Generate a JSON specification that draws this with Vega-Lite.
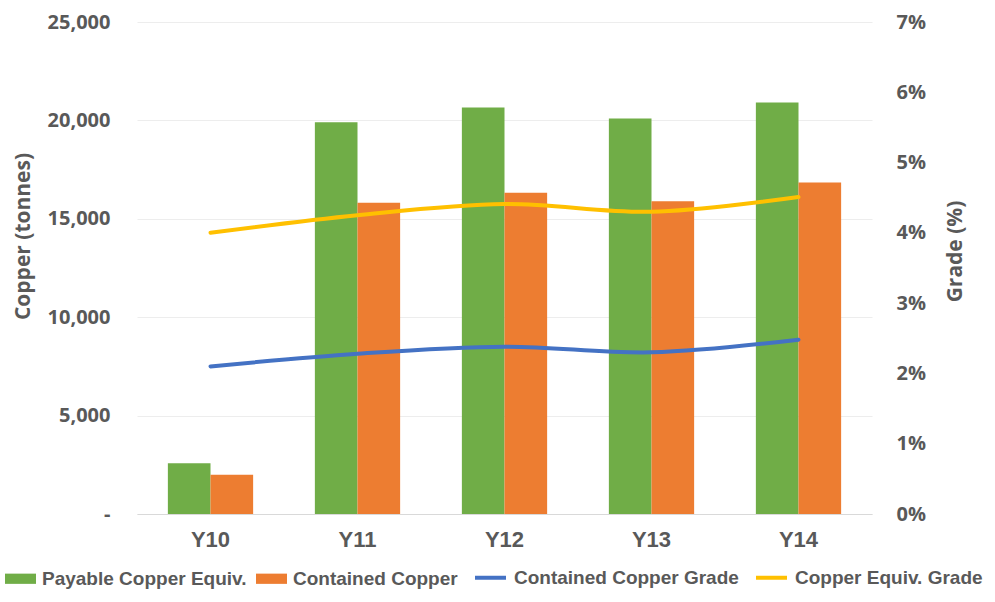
{
  "$schema": "https://vega.github.io/schema/vega-lite/v6.json",
  "autosize": {"type": "none"},
  "width": 735,
  "height": 492,
  "padding": {"left": 137, "top": 22, "right": 123, "bottom": 88},
  "background": "white",
  "config": {
    "view": {"stroke": null},
    "axis": {"labelColor": "#595959", "titleColor": "#595959", "ticks": false, "tickSize": 0, "domain": false}
  },
  "data": {
    "values": [
      {"year": "Y10", "series": "Payable Copper Equiv.", "kind": "bar", "value": 2580},
      {"year": "Y10", "series": "Contained Copper", "kind": "bar", "value": 2000},
      {"year": "Y11", "series": "Payable Copper Equiv.", "kind": "bar", "value": 19900},
      {"year": "Y11", "series": "Contained Copper", "kind": "bar", "value": 15820},
      {"year": "Y12", "series": "Payable Copper Equiv.", "kind": "bar", "value": 20660},
      {"year": "Y12", "series": "Contained Copper", "kind": "bar", "value": 16330},
      {"year": "Y13", "series": "Payable Copper Equiv.", "kind": "bar", "value": 20100},
      {"year": "Y13", "series": "Contained Copper", "kind": "bar", "value": 15890},
      {"year": "Y14", "series": "Payable Copper Equiv.", "kind": "bar", "value": 20910},
      {"year": "Y14", "series": "Contained Copper", "kind": "bar", "value": 16850},
      {"year": "Y10", "series": "Contained Copper Grade", "kind": "line", "value": 0.0210},
      {"year": "Y11", "series": "Contained Copper Grade", "kind": "line", "value": 0.0228},
      {"year": "Y12", "series": "Contained Copper Grade", "kind": "line", "value": 0.0238},
      {"year": "Y13", "series": "Contained Copper Grade", "kind": "line", "value": 0.0230},
      {"year": "Y14", "series": "Contained Copper Grade", "kind": "line", "value": 0.0248},
      {"year": "Y10", "series": "Copper Equiv. Grade", "kind": "line", "value": 0.0400},
      {"year": "Y11", "series": "Copper Equiv. Grade", "kind": "line", "value": 0.0425},
      {"year": "Y12", "series": "Copper Equiv. Grade", "kind": "line", "value": 0.0441},
      {"year": "Y13", "series": "Copper Equiv. Grade", "kind": "line", "value": 0.0430},
      {"year": "Y14", "series": "Copper Equiv. Grade", "kind": "line", "value": 0.0451}
    ]
  },
  "encoding": {
    "x": {
      "field": "year", "type": "nominal",
      "scale": {"paddingInner": 0.42, "paddingOuter": 0.21},
      "axis": {
        "title": null, "labelAngle": 0, "labelFont": "Liberation Sans", "labelFontWeight": "bold",
        "labelFontSize": 22, "labelPadding": 15, "domain": true, "domainColor": "#d9d9d9", "grid": false
      }
    }
  },
  "layer": [
    {
      "transform": [{"filter": "datum.kind == 'bar'"}],
      "mark": {"type": "bar"},
      "encoding": {
        "xOffset": {"field": "series", "type": "nominal", "sort": ["Payable Copper Equiv.", "Contained Copper"]},
        "y": {
          "field": "value", "type": "quantitative",
          "scale": {"domain": [0, 25000], "nice": false},
          "axis": {
            "title": "Copper (tonnes)", "values": [0, 5000, 10000, 15000, 20000, 25000],
            "labelExpr": "datum.value === 0 ? '-\u00a0\u00a0\u00a0' : format(datum.value, ',')",
            "labelFont": "Open Sans", "labelFontWeight": "bold", "labelFontSize": 20, "labelPadding": 27,
            "titleFont": "Open Sans", "titleFontWeight": "bold", "titleFontSize": 21, "titlePadding": 14,
            "titleY": 214,
            "grid": true, "gridColor": "#ededed", "gridWidth": 1
          }
        },
        "color": {
          "field": "series", "type": "nominal",
          "scale": {"domain": ["Payable Copper Equiv.", "Contained Copper"], "range": ["#70AD47", "#ED7D31"]},
          "legend": {
            "title": null, "orient": "none", "direction": "horizontal", "legendX": -132, "legendY": 541,
            "symbolType": "M-1,-0.33H1V0.33H-1Z", "symbolSize": 961, "symbolStrokeWidth": 0,
            "labelFont": "Liberation Sans", "labelFontWeight": "bold", "labelFontSize": 19, "labelColor": "#595959",
            "labelOffset": 6, "columnPadding": 9, "labelLimit": 400
          }
        }
      }
    },
    {
      "transform": [{"filter": "datum.kind == 'line'"}],
      "mark": {"type": "line", "interpolate": "catmull-rom", "strokeWidth": 4, "strokeCap": "round"},
      "encoding": {
        "y": {
          "field": "value", "type": "quantitative",
          "scale": {"domain": [0, 0.07], "nice": false},
          "axis": {
            "orient": "right", "title": "Grade (%)", "format": ".0%",
            "values": [0, 0.01, 0.02, 0.03, 0.04, 0.05, 0.06, 0.07],
            "labelFont": "Open Sans", "labelFontWeight": "bold", "labelFontSize": 20, "labelPadding": 24,
            "titleFont": "Open Sans", "titleFontWeight": "bold", "titleFontSize": 21, "titlePadding": 40,
            "titleAngle": 270, "titleY": 229,
            "grid": false
          }
        },
        "stroke": {
          "field": "series", "type": "nominal",
          "scale": {"domain": ["Contained Copper Grade", "Copper Equiv. Grade"], "range": ["#4472C4", "#FFC000"]},
          "legend": {
            "title": null, "orient": "none", "direction": "horizontal", "legendX": 336, "legendY": 538,
            "symbolType": "stroke", "symbolSize": 961, "symbolStrokeWidth": 4,
            "labelFont": "Liberation Sans", "labelFontWeight": "bold", "labelFontSize": 19, "labelColor": "#595959",
            "labelOffset": 6, "columnPadding": 9, "labelLimit": 400
          }
        }
      }
    }
  ],
  "resolve": {"scale": {"y": "independent"}}
}
